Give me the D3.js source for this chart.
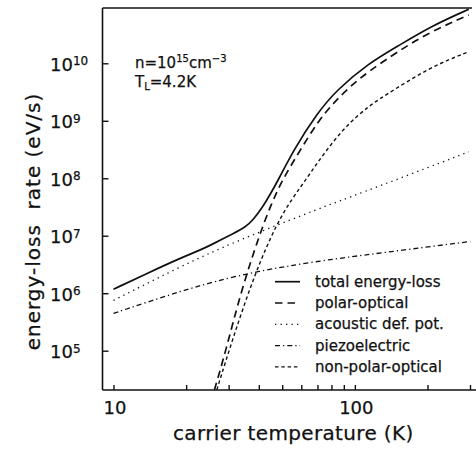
<!DOCTYPE html>
<html><head><meta charset="utf-8">
<script src="https://cdn.jsdelivr.net/npm/d3@7"></script>
<style>body{margin:0;background:#fff}svg{display:block}text{stroke:#111;stroke-width:0.25px}</style>
</head><body><svg id="c" width="476" height="456"></svg>
<script>
// ---- data (log10 of energy-loss rate in eV/s vs carrier temperature in K) ----
const xTickValues = [10, 20, 30, 40, 50, 60, 70, 80, 90, 100, 200, 300];
const xTickLabels = [10, 100];
const yTickExponents = [5, 6, 7, 8, 9, 10];
const legendLabels = ["total energy-loss", "polar-optical", "acoustic def. pot.", "piezoelectric", "non-polar-optical"];

const totalT   = [10, 13.7, 18.9, 22.9, 25.9, 31.4, 35.0, 38.0, 41.8, 44.6, 48.3, 55.7, 69.7, 84.3, 114.1, 149.7, 205.6, 296.5];
const totalLog = [6.07, 6.34, 6.61, 6.75, 6.86, 7.04, 7.14, 7.28, 7.52, 7.72, 7.98, 8.49, 9.13, 9.54, 10.0, 10.29, 10.64, 10.94];

const polarT   = [26.2, 29.2, 33.6, 40.1, 45.3, 50.5, 59.4, 70.6, 81.6, 95.7, 114.1, 150, 205.6, 296.5];
const polarLog = [4.32, 5.0, 6.0, 7.0, 7.58, 8.0, 8.49, 9.0, 9.31, 9.6, 9.86, 10.2, 10.55, 10.84];

const acousticT   = [10, 22.9, 40.5, 71.9, 89.8, 175.4, 296.5];
const acousticLog = [5.875, 6.64, 7.07, 7.48, 7.63, 8.09, 8.46];

const piezoT   = [10, 13.7, 18.9, 25.9, 39.3, 67.5, 127.6, 301];
const piezoLog = [5.65, 5.84, 6.03, 6.2, 6.38, 6.55, 6.70, 6.90];

const nonpolarT   = [26.8, 31.4, 38.6, 47.5, 55.7, 62.3, 69.7, 81.6, 95.7, 114.1, 127.6, 205.6, 296.5];
const nonpolarLog = [4.32, 5.25, 6.35, 7.22, 7.68, 7.96, 8.26, 8.65, 8.98, 9.25, 9.39, 9.94, 10.2];

// ---- layout ----
const svg = d3.select("#c");
const FONT = "DejaVu Sans, Verdana, sans-serif";
const ink = "#111";
const pLeft = 102.5, pRight = 476, pTop = 8, pBottom = 390;

const x = d3.scaleLog().domain([10, 300]).range([113.5, 470]);
const y = d3.scaleLog().domain([1e5, 1e10]).range([350.7, 63.3]);

svg.append("rect").attr("width", 476).attr("height", 456).attr("fill", "#fff");

svg.append("defs").append("clipPath").attr("id", "clip")
  .append("rect").attr("x", pLeft).attr("y", pTop).attr("width", pRight - pLeft).attr("height", pBottom - pTop);

// axes
const xAxis = d3.axisBottom(x).tickValues(xTickValues).tickSize(-5).tickFormat("");
const gx = svg.append("g").attr("transform", `translate(0,${pBottom})`).call(xAxis);
gx.select(".domain").remove();
gx.selectAll(".tick line").attr("stroke", ink).attr("stroke-width", 1.4);

const yAxis = d3.axisLeft(y).tickValues(yTickExponents.map(e => Math.pow(10, e))).tickSize(-6).tickFormat("");
const gy = svg.append("g").attr("transform", `translate(${pLeft},0)`).call(yAxis);
gy.select(".domain").remove();
gy.selectAll(".tick line").attr("stroke", ink).attr("stroke-width", 1.4);

// frame
const frame = svg.append("g").attr("stroke", ink).attr("stroke-width", 1.6).attr("fill", "none");
frame.append("line").attr("x1", pLeft).attr("x2", pLeft).attr("y1", pTop).attr("y2", pBottom);
frame.append("line").attr("x1", pLeft).attr("x2", pRight).attr("y1", pBottom).attr("y2", pBottom);
frame.append("line").attr("x1", pLeft).attr("x2", 472).attr("y1", pTop).attr("y2", pTop);

// y tick labels 10^n
yTickExponents.forEach(e => {
  const t = svg.append("text").attr("x", 50).attr("y", y(Math.pow(10, e)) + 7.4)
    .attr("font-family", FONT).attr("fill", ink);
  t.append("tspan").attr("font-size", 18).text("10");
  t.append("tspan").attr("font-size", 12).attr("dy", -5.5).text(e);
});

// x tick labels
xTickLabels.forEach(v => {
  svg.append("text").attr("x", x(v) + 1.5).attr("y", 414).attr("text-anchor", "middle")
    .attr("font-family", FONT).attr("font-size", 18).attr("fill", ink).text(v);
});

// axis titles
svg.append("text").attr("x", 293.3).attr("y", 440).attr("text-anchor", "middle")
  .attr("font-family", FONT).attr("font-size", 20).attr("letter-spacing", 0.35).attr("fill", ink)
  .text("carrier temperature (K)");
svg.append("text").attr("transform", "translate(40,221.5) rotate(-90)").attr("text-anchor", "middle")
  .attr("font-family", FONT).attr("font-size", 20).attr("letter-spacing", 1).attr("fill", ink)
  .style("white-space", "pre")
  .text("energy-loss  rate (eV/s)");

// annotation
const a1 = svg.append("text").attr("x", 135).attr("y", 68.3).attr("font-family", FONT).attr("font-size", 15).attr("fill", ink);
a1.append("tspan").text("n=10");
a1.append("tspan").attr("font-size", 10).attr("dy", -6).text("15");
a1.append("tspan").attr("dy", 6).text("cm");
a1.append("tspan").attr("font-size", 10).attr("dy", -6).text("\u22123");
const a2 = svg.append("text").attr("x", 135).attr("y", 87.3).attr("font-family", FONT).attr("font-size", 15).attr("fill", ink);
a2.append("tspan").text("T");
a2.append("tspan").attr("font-size", 10).attr("dy", 3).text("L");
a2.append("tspan").attr("dy", -3).text("=4.2K");

// series
const styles = [
  {T: totalT, L: totalLog, dash: null, w: 1.7},
  {T: polarT, L: polarLog, dash: "7.5,5", w: 1.7},
  {T: acousticT, L: acousticLog, dash: "1.3,4.2", w: 1.3},
  {T: piezoT, L: piezoLog, dash: "5,3,1.3,3", w: 1.3},
  {T: nonpolarT, L: nonpolarLog, dash: "3.5,2.8", w: 1.4}
];

const line = d3.line().x(d => x(d[0])).y(d => y(d[1])).curve(d3.curveBasis);
const plot = svg.append("g").attr("clip-path", "url(#clip)");
styles.forEach(s => {
  const pts = s.T.map((t, i) => [t, Math.pow(10, s.L[i])]);
  plot.append("path").datum(pts).attr("d", line).attr("fill", "none")
    .attr("stroke", ink).attr("stroke-width", s.w)
    .attr("stroke-dasharray", s.dash);
});

// legend
const lg = svg.append("g");
legendLabels.forEach((lab, i) => {
  const cy = 281.7 + i * 21.3;
  const s = styles[i];
  lg.append("line").attr("x1", 275).attr("x2", 300).attr("y1", cy).attr("y2", cy)
    .attr("stroke", ink).attr("stroke-width", s.w).attr("stroke-dasharray", s.dash);
  lg.append("text").attr("x", 315).attr("y", cy + 5).attr("font-family", FONT).attr("font-size", 15)
    .attr("fill", ink).text(lab);
});
</script>
</body></html>
